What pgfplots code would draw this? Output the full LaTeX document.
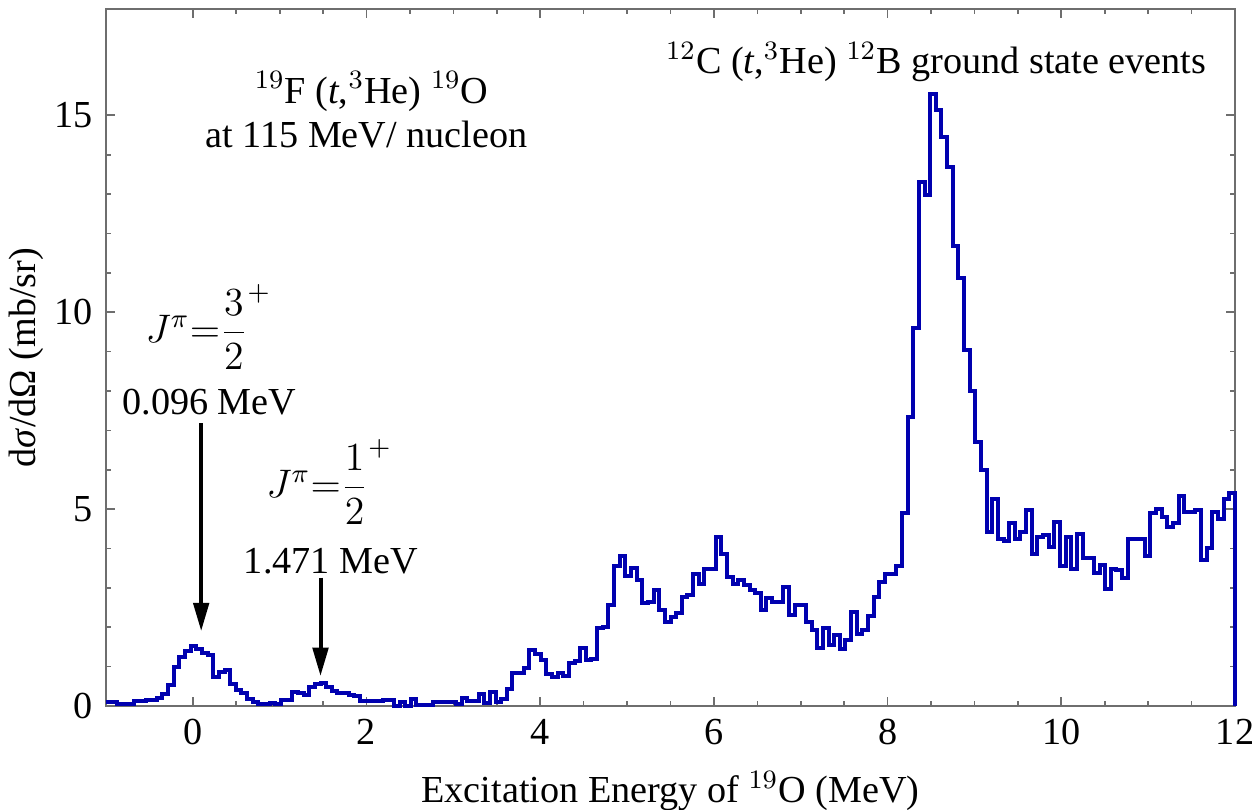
\documentclass[border=0pt]{standalone}
\usepackage{fontspec}
\setmainfont{Liberation Serif}
\usepackage{pgfplots}
\usepackage{pgfplotstable}
\pgfplotsset{compat=1.18}
\usetikzlibrary{arrows.meta,calc}

\definecolor{histblue}{RGB}{0,0,175}
\definecolor{framegray}{RGB}{110,110,110}

% left bin edge (MeV), counts (mb/sr); bins of 0.065 MeV
\pgfplotstableread{
x y
-1.000 0.10
-0.935 0.10
-0.870 0.04
-0.805 0.04
-0.740 0.04
-0.675 0.12
-0.610 0.12
-0.545 0.14
-0.480 0.16
-0.415 0.20
-0.350 0.30
-0.285 0.53
-0.220 0.99
-0.155 1.25
-0.090 1.40
-0.025 1.52
0.040 1.46
0.105 1.35
0.170 1.29
0.235 0.74
0.300 0.87
0.365 0.92
0.430 0.57
0.495 0.40
0.560 0.33
0.625 0.19
0.690 0.10
0.755 0.04
0.820 0.04
0.885 0.07
0.950 0.04
1.015 0.15
1.080 0.15
1.145 0.36
1.210 0.33
1.275 0.27
1.340 0.49
1.405 0.57
1.470 0.59
1.535 0.49
1.600 0.38
1.665 0.32
1.730 0.32
1.795 0.27
1.860 0.25
1.925 0.13
1.990 0.13
2.055 0.13
2.120 0.13
2.185 0.16
2.250 0.16
2.315 0.00
2.380 0.10
2.445 0.00
2.510 0.18
2.575 0.02
2.640 0.02
2.705 0.02
2.770 0.10
2.835 0.10
2.900 0.10
2.965 0.10
3.030 0.04
3.095 0.21
3.160 0.13
3.225 0.13
3.290 0.31
3.355 0.08
3.420 0.36
3.485 0.10
3.550 0.17
3.615 0.42
3.680 0.84
3.745 0.84
3.810 0.96
3.875 1.43
3.940 1.33
4.005 1.18
4.070 0.81
4.135 0.74
4.200 0.84
4.265 0.76
4.330 1.09
4.395 1.14
4.460 1.48
4.525 1.18
4.590 1.20
4.655 1.97
4.720 2.01
4.785 2.56
4.850 3.56
4.915 3.81
4.980 3.30
5.045 3.51
5.110 3.20
5.175 2.62
5.240 2.65
5.305 2.94
5.370 2.43
5.435 2.14
5.500 2.25
5.565 2.36
5.630 2.76
5.695 2.82
5.760 3.36
5.825 3.11
5.890 3.49
5.955 3.49
6.020 4.28
6.085 3.87
6.150 3.28
6.215 3.11
6.280 3.21
6.345 3.07
6.410 2.94
6.475 2.86
6.540 2.43
6.605 2.73
6.670 2.64
6.735 2.64
6.800 3.03
6.865 2.31
6.930 2.56
6.995 2.56
7.060 2.14
7.125 1.93
7.190 1.48
7.255 1.97
7.320 1.54
7.385 1.80
7.450 1.46
7.515 1.67
7.580 2.39
7.645 1.84
7.710 1.93
7.775 2.28
7.840 2.77
7.905 3.15
7.970 3.35
8.035 3.35
8.100 3.55
8.165 4.90
8.230 7.33
8.295 9.59
8.360 13.31
8.425 12.98
8.490 15.55
8.555 15.14
8.620 14.44
8.685 13.68
8.750 11.67
8.815 10.87
8.880 9.04
8.945 8.00
9.010 6.71
9.075 6.00
9.140 4.42
9.205 5.25
9.270 4.25
9.335 4.20
9.400 4.64
9.465 4.24
9.530 4.42
9.595 4.99
9.660 3.87
9.725 4.30
9.790 4.34
9.855 4.04
9.920 4.68
9.985 3.55
10.050 4.28
10.115 3.47
10.180 4.38
10.245 3.75
10.310 3.75
10.375 3.37
10.440 3.58
10.505 2.98
10.570 3.49
10.635 3.45
10.700 3.24
10.765 4.23
10.830 4.24
10.895 4.24
10.960 3.80
11.025 4.91
11.090 5.00
11.155 4.79
11.220 4.55
11.285 4.65
11.350 5.33
11.415 4.93
11.480 4.93
11.545 4.99
11.610 3.72
11.675 4.02
11.740 4.93
11.805 4.76
11.870 5.25
11.935 5.40
12.000 0.00
}\hist

\begin{document}
\begin{tikzpicture}
\fontsize{11.5}{13.8}\selectfont
\begin{axis}[
  scale only axis,
  width=338.7bp, height=209.1bp,
  xmin=-1, xmax=12, ymin=0, ymax=17.7,
  xtick={0,2,...,12}, minor x tick num=3,
  ytick={0,5,10,15}, minor y tick num=4,
  tick align=inside,
  major tick length=2.8bp, minor tick length=1.5bp,
  every tick/.style={framegray, line width=0.5bp},
  axis line style={framegray, line width=0.5bp},
  /pgf/number format/assume math mode=true,
  ticklabel style={font=\fontsize{11.5}{13.8}\selectfont},
  label style={font=\fontsize{11.5}{13.8}\selectfont},
  xlabel={Excitation Energy of $^{19}$O (MeV)},
  ylabel={d\textit{σ}/dΩ (mb/sr)},
  ylabel style={yshift=-4.5bp},
  clip=false,
]
\addplot[const plot, histblue, line width=1.2bp, line join=miter] table {\hist};

\node[anchor=base] at (axis cs:2.06,15.31) {$^{19}$F (\textit{t},$^{3}$He) $^{19}$O};
\node[anchor=base] at (axis cs:2.00,14.19) {at 115 MeV/ nucleon};
\node[anchor=base] at (axis cs:8.56,16.06) {$^{12}$C (\textit{t},$^{3}$He) $^{12}$B ground state events};

\node at (axis cs:0.18,9.63) {$J^{\pi}{=}\displaystyle\frac{3}{2}^{+}$};
\node[anchor=base] at (axis cs:0.19,7.39) {0.096 MeV};
\draw[line width=1.2bp, -{Triangle[length=8.5bp,width=4.6bp]}] (axis cs:0.096,7.18) -- (axis cs:0.096,1.90);

\node at (axis cs:1.57,5.69) {$J^{\pi}{=}\displaystyle\frac{1}{2}^{+}$};
\node[anchor=base] at (axis cs:1.59,3.37) {1.471 MeV};
\draw[line width=1.2bp, -{Triangle[length=8.5bp,width=4.6bp]}] (axis cs:1.47,3.26) -- (axis cs:1.47,0.76);
\end{axis}
\pgfresetboundingbox
\path[use as bounding box] ($(current axis.south west)+(-31.8bp,-31.2bp)$) rectangle ($(current axis.north east)+(6.6bp,2.7bp)$);
\end{tikzpicture}
\end{document}
